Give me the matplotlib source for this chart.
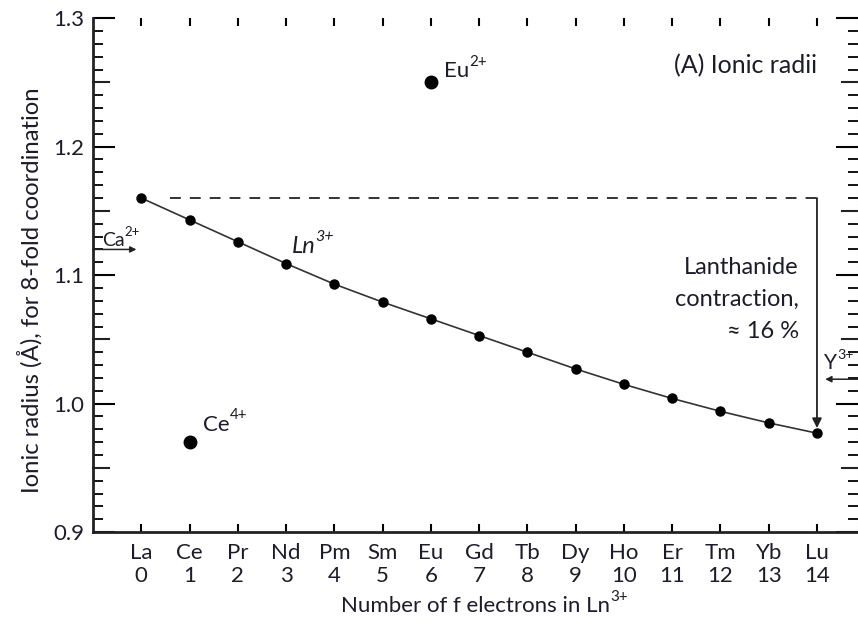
import numpy as np
import matplotlib.pyplot as plt
from matplotlib.ticker import MultipleLocator

plt.rcParams['font.family'] = ['Lato', 'DejaVu Sans']

# Ionic radii (Angstrom), 8-fold coordination
elements = ['La', 'Ce', 'Pr', 'Nd', 'Pm', 'Sm', 'Eu', 'Gd', 'Tb', 'Dy', 'Ho', 'Er', 'Tm', 'Yb', 'Lu']
f_electrons = list(range(15))
ln3_radius = [1.160, 1.143, 1.126, 1.109, 1.093, 1.079, 1.066, 1.053,
              1.040, 1.027, 1.015, 1.004, 0.994, 0.985, 0.977]
eu2_radius = 1.25
ce4_radius = 0.97
ca2_radius = 1.12
y3_radius = 1.019

ink = '#1c1c2a'
fs = 16


def ion_label(ax, x, y, base, sup, size, **kw):
    # base text plus a raised charge, placed right after the base text
    t = ax.text(x, y, base, fontsize=size, color=ink, **kw)
    ax.annotate(sup, xy=(1, 0.62), xycoords=t, fontsize=size * 0.68, color=ink,
                va='bottom', ha='left', **kw)
    return t


fig = plt.figure(figsize=(8.58, 6.26), dpi=100)
ax = fig.add_axes([0.1084, 0.150, 0.8916, 0.821])

ax.plot(f_electrons, ln3_radius, '-', color='#333333', lw=1.2,
        marker='o', ms=6.5, mfc='black', mec='black')
ax.plot(6, eu2_radius, 'o', color='black', ms=9)
ax.plot(1, ce4_radius, 'o', color='black', ms=9)

ion_label(ax, 6.28, eu2_radius + 0.004, 'Eu', '2+', fs)
ion_label(ax, 1.28, ce4_radius + 0.009, 'Ce', '4+', fs)
ion_label(ax, 3.12, 1.117, 'Ln', '3+', 17, style='italic')

# dashed reference at La value and contraction arrow
ax.plot([0.6, 14], [ln3_radius[0], ln3_radius[0]], '--', color='#222222', lw=1.3,
        dashes=(6, 5))
ax.annotate('', xy=(14, ln3_radius[-1] + 0.004), xytext=(14, ln3_radius[0]),
            arrowprops=dict(arrowstyle='-|>', color='#222222', lw=1.3,
                            mutation_scale=14, shrinkA=0, shrinkB=0))
ax.text(13.62, 1.081, 'Lanthanide\ncontraction,\n\u2248 16 %', fontsize=17,
        color=ink, ha='right', va='center', linespacing=1.65)

# Ca2+ and Y3+ markers on the axes
ax.annotate('', xy=(-0.1, ca2_radius), xytext=(-1, ca2_radius),
            arrowprops=dict(arrowstyle='-|>', color='#222222', lw=1.1,
                            mutation_scale=9, shrinkA=0, shrinkB=0))
ion_label(ax, -0.82, ca2_radius + 0.003, 'Ca', '2+', 14)
ax.annotate('', xy=(14.17, y3_radius), xytext=(14.85, y3_radius),
            arrowprops=dict(arrowstyle='-|>', color='#222222', lw=1.1,
                            mutation_scale=9, shrinkA=0, shrinkB=0))
ion_label(ax, 14.15, y3_radius + 0.008, 'Y', '3+', 15)

ax.text(14, 1.263, '(A) Ionic radii', fontsize=18, color=ink, ha='right', va='center')

ax.set_xlim(-1, 14.85)
ax.set_ylim(0.9, 1.3)

ax.set_xticks(f_electrons)
ax.set_xticklabels([f'{e}\n{n}' for e, n in zip(elements, f_electrons)],
                   fontsize=fs, color=ink, linespacing=1.2)
ax.set_yticks([0.9, 1.0, 1.1, 1.2, 1.3])
ax.set_yticklabels(['0.9', '1.0', '1.1', '1.2', '1.3'], fontsize=fs, color=ink)
ax.yaxis.set_minor_locator(MultipleLocator(0.01))

ax.tick_params(axis='x', which='major', direction='in', length=6, width=1.5,
               top=True, pad=8)
ax.tick_params(axis='y', which='major', direction='in', length=16, width=1.5,
               right=True, pad=6)
ax.tick_params(axis='y', which='minor', direction='in', length=7, width=1.3,
               right=True)

# extra ticks at 0.05 as long ticks
for yv in [0.95, 1.05, 1.15, 1.25]:
    ax.plot([-1, -0.67], [yv, yv], color='#222222', lw=1.5, clip_on=False)
    ax.plot([14.85, 14.52], [yv, yv], color='#222222', lw=1.5, clip_on=False)

for s in ['left', 'bottom']:
    ax.spines[s].set_linewidth(2.0)
    ax.spines[s].set_color('#222222')
ax.spines['top'].set_visible(False)
ax.spines['right'].set_color('#bbbbbb')
ax.spines['right'].set_linestyle(':')

xl = ax.set_xlabel('Number of f electrons in Ln', fontsize=fs, color=ink, labelpad=7)
ax.annotate('3+', xy=(1, 0.62), xycoords=xl, fontsize=fs * 0.68, color=ink,
            va='bottom', ha='left')
ax.set_ylabel('Ionic radius (Å), for 8-fold coordination', fontsize=17.2, color=ink)
ax.yaxis.set_label_coords(-0.066, 0.47)

fig.savefig('out.png', dpi=100)
